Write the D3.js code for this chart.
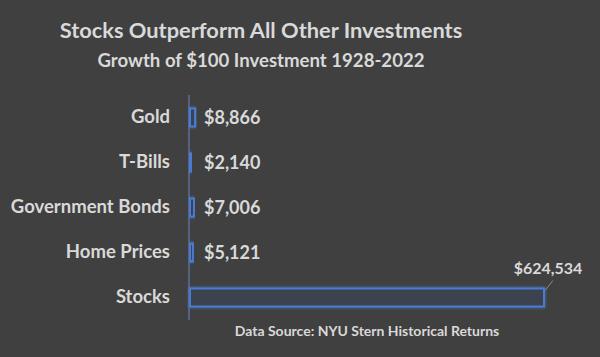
<!DOCTYPE html>
<html><head><meta charset="utf-8">
<script src="https://cdn.jsdelivr.net/npm/d3@7"></script>
<style>body{margin:0;background:#404040;}svg{display:block;}</style>
</head><body>
<script>
const categories = ["Gold", "T-Bills", "Government Bonds", "Home Prices", "Stocks"];
const values = [8866, 2140, 7006, 5121, 624534];
const labels = ["$8,866", "$2,140", "$7,006", "$5,121", "$624,534"];

const W = 600, H = 357;
const svg = d3.select("body").append("svg").attr("width", W).attr("height", H);
svg.append("rect").attr("width", W).attr("height", H).attr("fill", "#404040");

const defs = svg.append("defs");
const f = defs.append("filter").attr("id", "glow").attr("x", "-20%").attr("y", "-50%").attr("width", "140%").attr("height", "200%");
f.append("feGaussianBlur").attr("in", "SourceGraphic").attr("stdDeviation", 1.6).attr("result", "b");
const m = f.append("feMerge");
m.append("feMergeNode").attr("in", "b");
m.append("feMergeNode").attr("in", "SourceGraphic");

const x0 = 189, x1 = 543;
const x = d3.scaleLinear().domain([0, d3.max(values)]).range([x0, x1]);
const y = d3.scaleBand().domain(categories).range([95, 320]).paddingInner(0.6).paddingOuter(0.3);

const txt = "#d9d9d9";
const font = "Lato, 'Open Sans', sans-serif";

svg.append("text").attr("x", 261).attr("y", 38).attr("text-anchor", "middle")
  .attr("font-family", font).attr("font-weight", 700).attr("font-size", 21.8).attr("fill", txt)
  .text("Stocks Outperform All Other Investments");
svg.append("text").attr("x", 261).attr("y", 67).attr("text-anchor", "middle")
  .attr("font-family", font).attr("font-weight", 700).attr("font-size", 18.6).attr("fill", txt)
  .text("Growth of $100 Investment 1928-2022");

// axis
const axis = svg.append("g").attr("transform", `translate(${x0},0)`).call(d3.axisLeft(y).tickSize(0).tickPadding(19));
axis.select(".domain").attr("stroke", "#5b6f9a").attr("stroke-width", 1.5).attr("d", `M0,95V320`);
axis.selectAll("text").attr("font-family", font).attr("font-weight", 700).attr("font-size", 18.5).attr("fill", txt);

// bars
svg.append("g").selectAll("rect").data(values).join("rect")
  .attr("x", x0 + 1).attr("y", (d, i) => y(categories[i]))
  .attr("width", d => Math.max(1, x(d) - x0)).attr("height", y.bandwidth())
  .attr("fill", "#3d4250").attr("stroke", "#4a7bd0").attr("stroke-width", 2)
  .attr("filter", "url(#glow)");

// value labels
const last = values.length - 1;
svg.append("g").selectAll("text").data(values).join("text")
  .attr("x", (d, i) => i === last ? x(d) + 5 : 204)
  .attr("y", (d, i) => i === last ? y(categories[i]) - 20 : y(categories[i]) + y.bandwidth() / 2)
  .attr("dy", "0.35em")
  .attr("text-anchor", (d, i) => i === last ? "middle" : "start")
  .attr("font-family", font).attr("font-weight", 700)
  .attr("font-size", (d, i) => i === last ? 16 : 18).attr("fill", txt)
  .text((d, i) => labels[i]);

// leader line for stocks
svg.append("line")
  .attr("x1", x(values[last]) + 2).attr("y1", y(categories[last]) + 2)
  .attr("x2", x(values[last]) + 10).attr("y2", y(categories[last]) - 8)
  .attr("stroke", "#8a8a8a").attr("stroke-width", 1);

svg.append("text").attr("x", 367).attr("y", 336).attr("text-anchor", "middle")
  .attr("font-family", font).attr("font-weight", 700).attr("font-size", 14).attr("fill", txt)
  .text("Data Source: NYU Stern Historical Returns");
</script>
</body></html>
